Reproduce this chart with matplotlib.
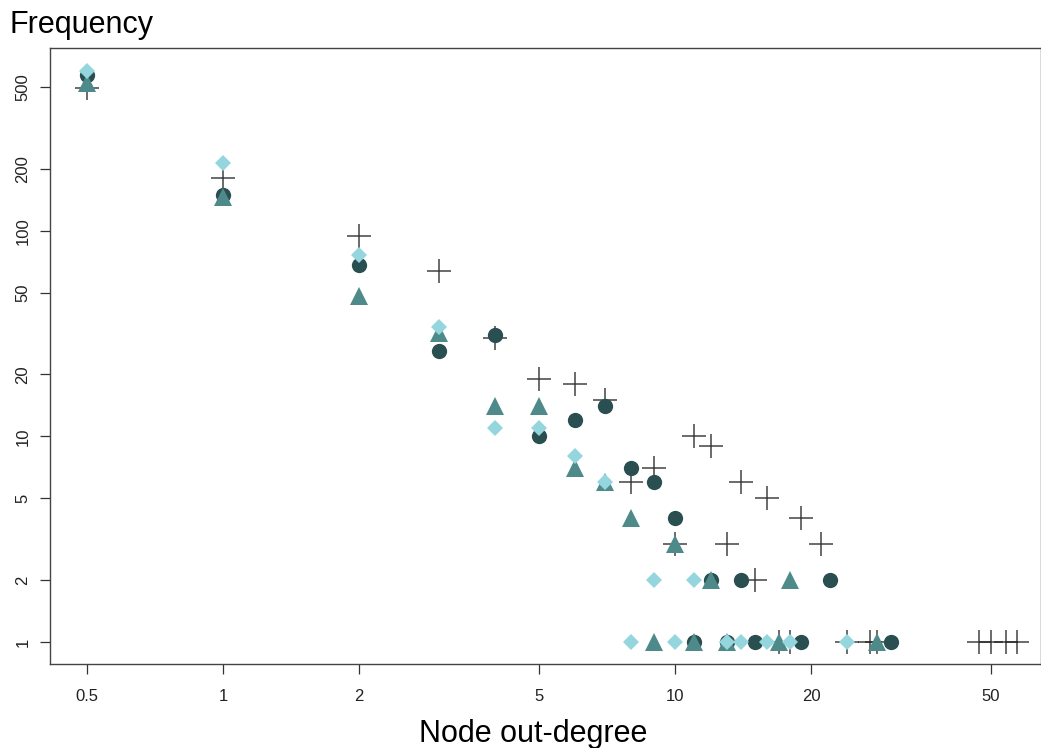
"""Out-degree frequency distribution, log-log scatter of four networks."""
import matplotlib
matplotlib.use("Agg")
import matplotlib.pyplot as plt

plt.rcParams["font.family"] = ["Liberation Sans", "DejaVu Sans"]

# ---- data (degree 0 is drawn at 0.5) ----
deg_plus = [0.5, 1, 2, 3, 4, 5, 6, 7, 8, 9, 10, 11, 12, 13, 14, 15, 16, 17, 18,
            19, 21, 24, 27, 28, 47, 50, 54, 57]
frq_plus = [495, 180, 94, 64, 30, 19, 18, 15, 6, 7, 3, 10, 9, 3, 6, 2, 5, 1, 1,
            4, 3, 1, 1, 1, 1, 1, 1, 1]

deg_circ = [0.5, 1, 2, 3, 4, 5, 6, 7, 8, 9, 10, 11, 12, 13, 14, 15, 19, 22, 30]
frq_circ = [575, 150, 68, 26, 31, 10, 12, 14, 7, 6, 4, 1, 2, 1, 2, 1, 1, 2, 1]

deg_tri = [0.5, 1, 2, 3, 4, 5, 6, 7, 8, 9, 10, 11, 12, 13, 17, 18, 28]
frq_tri = [522, 146, 48, 32, 14, 14, 7, 6, 4, 1, 3, 1, 2, 1, 1, 2, 1]

deg_dia = [0.5, 1, 2, 3, 4, 5, 6, 7, 8, 9, 10, 11, 13, 14, 16, 18, 24]
frq_dia = [600, 213, 76, 34, 11, 11, 8, 6, 1, 2, 1, 2, 1, 1, 1, 1, 1]

xticks = [0.5, 1, 2, 5, 10, 20, 50]
xlabels = ["0.5", "1", "2", "5", "10", "20", "50"]
yticks = [1, 2, 5, 10, 20, 50, 100, 200, 500]

fig = plt.figure(figsize=(10.41, 7.48), dpi=100)
ax = fig.add_axes([50 / 1041, 84 / 748, 991 / 1041, 616 / 748])

ax.plot(deg_plus, frq_plus, ls="none", marker="+", ms=17, mew=1.1,
        color="#222222", alpha=0.85, zorder=2)
ax.plot(deg_circ, frq_circ, ls="none", marker="o", ms=11, mew=0,
        color="#2a4f51", zorder=3)
ax.plot(deg_tri, frq_tri, ls="none", marker="^", ms=12.5, mew=0,
        color="#4f8a8b", zorder=4)
ax.plot(deg_dia, frq_dia, ls="none", marker="D", ms=8.5, mew=0,
        color="#95d6de", zorder=5)

ax.set_xscale("log"); ax.set_yscale("log")
ax.set_xlim(0.414, 64.5)
ax.set_ylim(0.782, 774)
ax.set_xticks(xticks); ax.set_xticklabels(xlabels)
ax.set_yticks(yticks); ax.set_yticklabels([str(v) for v in yticks],
                                          rotation=90, va="center")
ax.minorticks_off()
ax.tick_params(direction="out", length=7.2, width=0.9, color="#333333",
               labelsize=12, labelcolor="#222222")
ax.tick_params(axis="x", pad=11)
ax.tick_params(axis="y", pad=7)
for s in ax.spines.values():
    s.set_color("#444444"); s.set_linewidth(1.0)

fig.text(10 / 1041, 1 - 33 / 748, "Frequency", fontsize=22, ha="left",
         va="baseline")
fig.text(533.5 / 1041, 1 - 742 / 748, "Node out-degree", fontsize=22,
         ha="center", va="baseline")

fig.savefig("out.png", dpi=100)
